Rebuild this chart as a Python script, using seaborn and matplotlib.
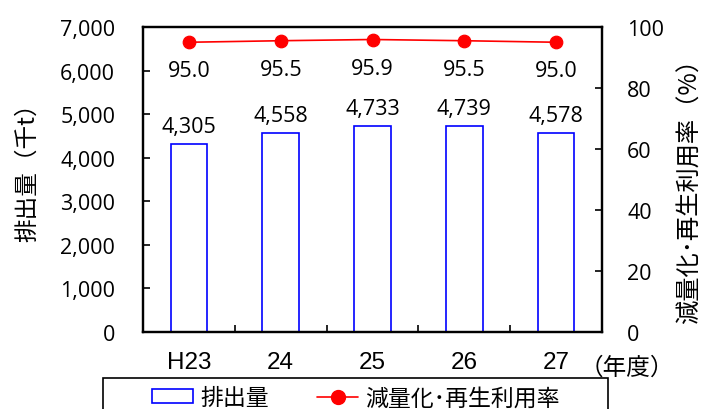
import matplotlib
matplotlib.use("Agg")
import matplotlib.pyplot as plt
from matplotlib.patches import Patch, Rectangle
from matplotlib.lines import Line2D
import seaborn as sns
import pandas as pd
import numpy as np

# Fiscal years and values
years = ["H23", "24", "25", "26", "27"]
emissions = [4305, 4558, 4733, 4739, 4578]          # 排出量 (千t)
recycle_rate = [95.0, 95.5, 95.9, 95.5, 95.0]       # 減量化・再生利用率 (%)
left_ticks = [0, 1000, 2000, 3000, 4000, 5000, 6000, 7000]
right_ticks = [0, 20, 40, 60, 80, 100]

sns.set_theme(style="white")
plt.rcParams["font.family"] = ["Open Sans", "Noto Sans CJK JP", "DejaVu Sans"]
plt.rcParams["text.color"] = "black"
plt.rcParams["axes.labelcolor"] = "black"
plt.rcParams["xtick.color"] = "black"
plt.rcParams["ytick.color"] = "black"

JP = ["Noto Sans CJK JP", "DejaVu Sans"]
FS = 15.5

df = pd.DataFrame({"year": years, "emissions": emissions, "rate": recycle_rate})

fig = plt.figure(figsize=(7.07, 4.10), dpi=100)
ax = fig.add_axes([143 / 707, 1 - 333 / 410, (602 - 143) / 707, (333 - 28) / 410])

sns.barplot(data=df, x="year", y="emissions", ax=ax, width=0.4,
            facecolor="white", edgecolor="#0000ff", linewidth=1.2)
ax.set_ylim(0, 7000)
ax.set_xlim(-0.5, len(years) - 0.5)
ax.set_yticks(left_ticks)
ax.set_yticklabels([f"{v:,}" for v in left_ticks], fontsize=FS)
ax.tick_params(axis="y", direction="in", length=5, width=1.2, pad=20, left=True)
ax.set_xticks(range(len(years)))
ax.set_xticklabels(years, fontsize=17.5, family=["Liberation Sans"])
ax.tick_params(axis="x", which="major", length=0, pad=14)
ax.set_xticks(np.arange(0.5, len(years) - 0.5, 1.0), minor=True)
ax.tick_params(axis="x", which="minor", direction="in", length=5, width=1.2, bottom=True)
ax.set_xlabel("")
ax.set_ylabel("")
for s in ax.spines.values():
    s.set_color("black")
    s.set_linewidth(1.6)

for i, v in enumerate(emissions):
    ax.annotate(f"{v:,}", (i, v), xytext=(0, 5), textcoords="offset points",
                ha="center", va="bottom", fontsize=FS)

ax2 = ax.twinx()
sns.pointplot(data=df, x="year", y="rate", ax=ax2, color="#ff0000",
              markers="o", markersize=9, linewidth=1.2)
ax2.set_ylim(0, 100)
ax2.set_xlim(-0.5, len(years) - 0.5)
ax2.set_yticks(right_ticks)
ax2.set_yticklabels([str(v) for v in right_ticks], fontsize=FS)
ax2.tick_params(axis="y", direction="in", length=5, width=1.2, pad=18, right=True)
ax2.set_ylabel("")
ax2.set_xlabel("")
for s in ax2.spines.values():
    s.set_color("black")
    s.set_linewidth(1.6)

for i, v in enumerate(recycle_rate):
    ax2.annotate(f"{v:.1f}", (i, v), xytext=(0, -13), textcoords="offset points",
                 ha="center", va="top", fontsize=FS)

# Axis titles and unit note
fig.text(28 / 707, 1 - 167 / 410, "排出量（千t）", rotation=90, fontsize=17,
         family=JP, ha="center", va="center")
fig.text(690 / 707, 1 - 185 / 410, "減量化･再生利用率（%）", rotation=90, fontsize=17.5,
         family=JP, ha="center", va="center")
fig.text(627 / 707, 1 - 368 / 410, "（年度）", fontsize=17, family=JP,
         ha="center", va="center")

# Legend with a frame that runs off the lower edge
fig.patches.append(Rectangle((103 / 707, -0.1), (608 - 103) / 707, 0.1 + (410 - 379) / 410,
                             transform=fig.transFigure, facecolor="white",
                             edgecolor="black", linewidth=1.2, zorder=0))
handles = [
    Patch(facecolor="white", edgecolor="#0000ff", linewidth=1.2, label="排出量"),
    Line2D([0], [0], color="#ff0000", marker="o", markersize=10, linewidth=1.2,
           label="減量化･再生利用率"),
]
leg = fig.legend(handles=handles, loc="center left", ncol=2,
                 bbox_to_anchor=(152 / 707, 1 - 399 / 410),
                 prop={"family": JP, "size": 16.5}, frameon=False,
                 borderaxespad=0, borderpad=0, handlelength=1.8, handleheight=0.55,
                 columnspacing=2.1, handletextpad=0.3)

fig.savefig("out.png", dpi=100)
